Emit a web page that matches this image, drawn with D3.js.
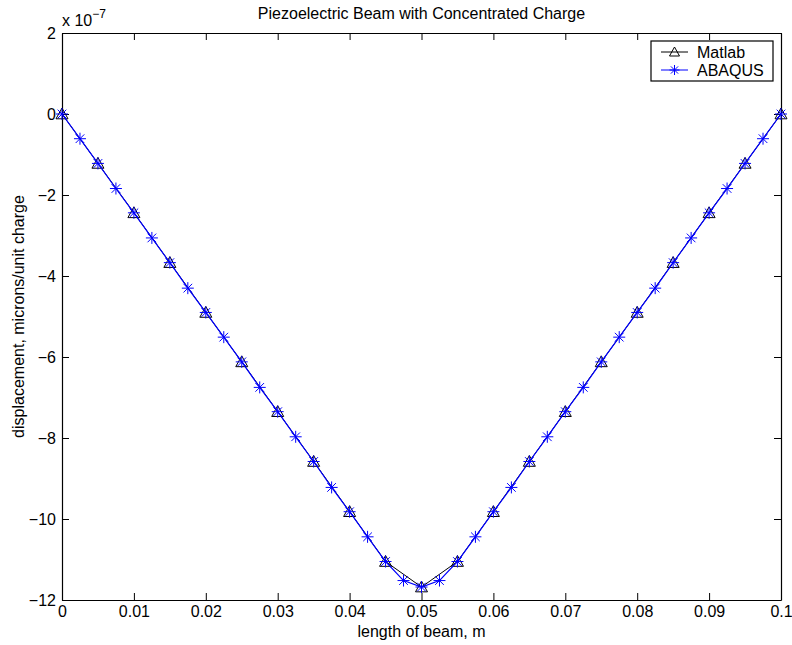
<!DOCTYPE html>
<html>
<head>
<meta charset="utf-8">
<script src="https://cdn.jsdelivr.net/npm/d3@7"></script>
<style>
  body { margin: 0; background: #fff; }
  svg text { font-family: "Liberation Sans", Arial, Helvetica, sans-serif; fill: #000; }
</style>
</head>
<body>
<div id="chart"></div>
<script>
// data, displacement in units of 1e-7
const matlabX = [0, 0.005, 0.01, 0.015, 0.02, 0.025, 0.03, 0.035, 0.04, 0.045, 0.05,
                 0.055, 0.06, 0.065, 0.07, 0.075, 0.08, 0.085, 0.09, 0.095, 0.1];
const matlabY = [0, -1.22, -2.44, -3.67, -4.90, -6.12, -7.35, -8.58, -9.82, -11.05, -11.68,
                 -11.05, -9.82, -8.58, -7.35, -6.12, -4.90, -3.67, -2.44, -1.22, 0];

const abaqusX = [0, 0.0025, 0.005, 0.0075, 0.01, 0.0125, 0.015, 0.0175, 0.02, 0.0225,
                 0.025, 0.0275, 0.03, 0.0325, 0.035, 0.0375, 0.04, 0.0425, 0.045, 0.0475,
                 0.05, 0.0525, 0.055, 0.0575, 0.06, 0.0625, 0.065, 0.0675, 0.07, 0.0725,
                 0.075, 0.0775, 0.08, 0.0825, 0.085, 0.0875, 0.09, 0.0925, 0.095, 0.0975, 0.1];
const abaqusY = [0, -0.61, -1.22, -1.84, -2.44, -3.06, -3.67, -4.30, -4.90, -5.51,
                 -6.12, -6.75, -7.35, -7.97, -8.58, -9.22, -9.82, -10.44, -11.05, -11.52,
                 -11.68, -11.52, -11.05, -10.44, -9.82, -9.22, -8.58, -7.97, -7.35, -6.75,
                 -6.12, -5.51, -4.90, -4.30, -3.67, -3.06, -2.44, -1.84, -1.22, -0.61, 0];

const xTicks = [0, 0.01, 0.02, 0.03, 0.04, 0.05, 0.06, 0.07, 0.08, 0.09, 0.1];
const yTicks = [2, 0, -2, -4, -6, -8, -10, -12];
const seriesNames = ["Matlab", "ABAQUS"];

const width = 792, height = 645;
const margin = {left: 62, right: 11, top: 33, bottom: 45};

const svg = d3.select("#chart").append("svg")
    .attr("width", width).attr("height", height);

const x = d3.scaleLinear().domain([0, 0.1]).range([margin.left, width - margin.right]);
const y = d3.scaleLinear().domain([-12, 2]).range([height - margin.bottom, margin.top]);

const fs = 16;

// axes box with inward ticks
const fmtX = d => d === 0 ? "0" : (d === 0.1 ? "0.1" : d3.format(".2f")(d));
const fmtY = d => d < 0 ? "\u2212" + Math.abs(d) : String(d);

svg.append("g").attr("transform", `translate(0,${y(-12)})`)
  .call(d3.axisBottom(x).tickValues(xTicks).tickSizeInner(-7).tickSizeOuter(0).tickPadding(6).tickFormat(fmtX))
  .call(g => g.selectAll("text").style("font-size", fs + "px"));
svg.append("g").attr("transform", `translate(0,${y(2)})`)
  .call(d3.axisTop(x).tickValues(xTicks).tickSizeInner(-7).tickSizeOuter(0).tickFormat(""));
svg.append("g").attr("transform", `translate(${x(0)},0)`)
  .call(d3.axisLeft(y).tickValues(yTicks).tickSizeInner(-7).tickSizeOuter(0).tickPadding(6).tickFormat(fmtY))
  .call(g => g.selectAll("text").style("font-size", fs + "px"));
svg.append("g").attr("transform", `translate(${x(0.1)},0)`)
  .call(d3.axisRight(y).tickValues(yTicks).tickSizeInner(-7).tickSizeOuter(0).tickFormat(""));
svg.selectAll(".domain").attr("stroke", "#000").attr("stroke-width", 1.2);
svg.selectAll(".tick line").attr("stroke", "#000");

// multiplier label
const mult = svg.append("text").attr("x", x(0)).attr("y", 26).style("font-size", fs + "px");
mult.append("tspan").text("x 10");
mult.append("tspan").attr("dy", -8).style("font-size", "12px").text("\u22127");

// title and labels
svg.append("text").attr("x", (x(0) + x(0.1)) / 2).attr("y", 19)
  .attr("text-anchor", "middle").style("font-size", fs + "px")
  .text("Piezoelectric Beam with Concentrated Charge");
svg.append("text").attr("x", (x(0) + x(0.1)) / 2).attr("y", 637)
  .attr("text-anchor", "middle").style("font-size", fs + "px").text("length of beam, m");
svg.append("text").attr("transform", `translate(24,${(y(2) + y(-12)) / 2}) rotate(-90)`)
  .attr("text-anchor", "middle").style("font-size", fs + "px")
  .text("displacement, microns/unit charge");

const line = d3.line().x(d => x(d[0])).y(d => y(d[1]));
const mPts = matlabX.map((v, i) => [v, matlabY[i]]);
const aPts = abaqusX.map((v, i) => [v, abaqusY[i]]);

const tri = s => `M0,${-s}L${s},${s * 0.8}L${-s},${s * 0.8}Z`;
const star = s => {
  const d = s * 0.72;
  return `M${-s},0L${s},0M0,${-s}L0,${s}M${-d},${-d}L${d},${d}M${-d},${d}L${d},${-d}`;
};

// Matlab series
svg.append("path").datum(mPts).attr("d", line)
  .attr("fill", "none").attr("stroke", "#000").attr("stroke-width", 1);
svg.append("g").selectAll("path").data(mPts).join("path")
  .attr("transform", d => `translate(${x(d[0])},${y(d[1])})`)
  .attr("d", tri(6)).attr("fill", "none").attr("stroke", "#000").attr("stroke-width", 1);

// ABAQUS series
svg.append("path").datum(aPts).attr("d", line)
  .attr("fill", "none").attr("stroke", "#0000ff").attr("stroke-width", 1.2);
svg.append("g").selectAll("path").data(aPts).join("path")
  .attr("transform", d => `translate(${x(d[0])},${y(d[1])})`)
  .attr("d", star(6)).attr("fill", "none").attr("stroke", "#0000ff").attr("stroke-width", 1);

// legend
const lg = svg.append("g");
lg.append("rect").attr("x", 651).attr("y", 41).attr("width", 122).attr("height", 40)
  .attr("fill", "#fff").attr("stroke", "#000").attr("stroke-width", 1.2);
const rows = [{name: seriesNames[0], color: "#000", mark: tri(5), yy: 52},
              {name: seriesNames[1], color: "#0000ff", mark: star(5), yy: 70}];
rows.forEach(r => {
  lg.append("line").attr("x1", 661).attr("x2", 688).attr("y1", r.yy).attr("y2", r.yy)
    .attr("stroke", r.color);
  lg.append("path").attr("transform", `translate(674.5,${r.yy})`).attr("d", r.mark)
    .attr("fill", "none").attr("stroke", r.color);
  lg.append("text").attr("x", 697).attr("y", r.yy + 6).style("font-size", fs + "px").text(r.name);
});
</script>
</body>
</html>
